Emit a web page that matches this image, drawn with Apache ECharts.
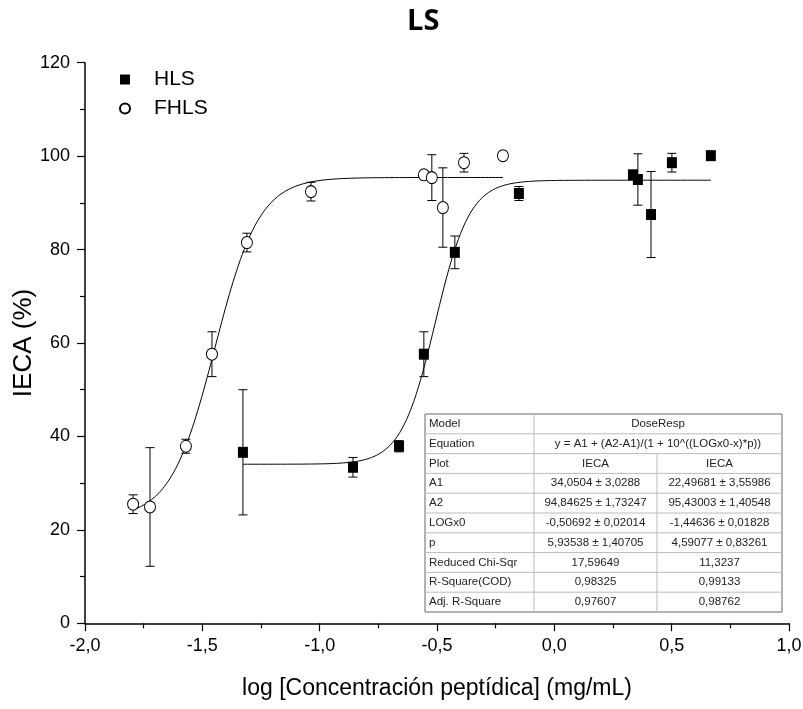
<!DOCTYPE html>
<html>
<head>
<meta charset="utf-8">
<script src="https://cdn.jsdelivr.net/npm/echarts@6/dist/echarts.min.js"></script>
<style>html,body{margin:0;padding:0;background:#fff}#c{width:803px;height:709px}</style>
</head>
<body>
<div id="c"></div>
<script>
// HLS data: x (log conc), y (IECA %), error
const hlsX   = [-1.327, -0.858, -0.662, -0.556, -0.424, -0.151, 0.335, 0.356, 0.412, 0.501, 0.667];
const hlsY   = [36.6, 33.4, 37.9, 57.6, 79.4, 92.0, 96.0, 95.0, 87.5, 98.6, 100.1];
const hlsErr = [13.4, 2.1, 1.2, 4.8, 3.5, 1.5, 0, 5.5, 9.2, 2.0, 0];
// FHLS data
const fhlsX   = [-1.795, -1.723, -1.570, -1.459, -1.310, -1.037, -0.556, -0.522, -0.475, -0.385, -0.219];
const fhlsY   = [25.5, 24.9, 37.9, 57.6, 81.5, 92.4, 96.0, 95.4, 89.0, 98.6, 100.1];
const fhlsErr = [2.0, 12.7, 1.5, 4.8, 2.0, 2.0, 0, 4.9, 8.5, 2.0, 0];
// DoseResp fit parameters from table: A1, A2, LOGx0, p
const hlsFit  = [34.0504, 94.84625, -0.50692, 5.93538];
const fhlsFit = [22.49681, 95.43003, -1.44636, 4.59077];
// Table
const tableRows = ["Model","Equation","Plot","A1","A2","LOGx0","p","Reduced Chi-Sqr","R-Square(COD)","Adj. R-Square"];
const tableCol1 = ["DoseResp","y = A1 + (A2-A1)/(1 + 10^((LOGx0-x)*p))","IECA","34,0504 ± 3,0288","94,84625 ± 1,73247","-0,50692 ± 0,02014","5,93538 ± 1,40705","17,59649","0,98325","0,97607"];
const tableCol2 = [null,null,"IECA","22,49681 ± 3,55986","95,43003 ± 1,40548","-1,44636 ± 0,01828","4,59077 ± 0,83261","11,3237","0,99133","0,98762"];

function doseResp(par, x){ return par[0] + (par[1]-par[0])/(1+Math.pow(10,(par[2]-x)*par[3])); }
function curve(par, x0, x1){
  const pts=[]; const n=200;
  for(let i=0;i<=n;i++){ const x=x0+(x1-x0)*i/n; pts.push([x, doseResp(par,x)]); }
  return pts;
}
function errData(xs, ys, es){ return xs.map((x,i)=>[x, ys[i]-es[i], ys[i]+es[i]]).filter(d=>d[2]>d[1]); }

const errRender = function(params, api){
  const x = api.value(0), lo = api.value(1), hi = api.value(2);
  const pLo = api.coord([x, lo]), pHi = api.coord([x, hi]);
  const w = 4.5;
  const st = {stroke:'#000', lineWidth:1};
  return {type:'group', children:[
    {type:'line', shape:{x1:pLo[0],y1:pLo[1],x2:pHi[0],y2:pHi[1]}, style:st},
    {type:'line', shape:{x1:pLo[0]-w,y1:pLo[1],x2:pLo[0]+w,y2:pLo[1]}, style:st},
    {type:'line', shape:{x1:pHi[0]-w,y1:pHi[1],x2:pHi[0]+w,y2:pHi[1]}, style:st}
  ]};
};

// table graphics
const tL=425, tT=414, rowH=19.8, cols=[425,534,657,782];
const tFont = '11.5px "Liberation Sans", Arial, sans-serif';
const g = [];
g.push({type:'rect', shape:{x:tL, y:tT, width:cols[3]-tL, height:rowH*10}, style:{fill:'#fff', stroke:'#666', lineWidth:1}, z:10});
for(let r=1;r<10;r++){
  g.push({type:'line', shape:{x1:tL,y1:tT+r*rowH,x2:cols[3],y2:tT+r*rowH}, style:{stroke:'#bbb',lineWidth:1}, z:11});
}
g.push({type:'line', shape:{x1:cols[1],y1:tT,x2:cols[1],y2:tT+10*rowH}, style:{stroke:'#bbb',lineWidth:1}, z:11});
g.push({type:'line', shape:{x1:cols[2],y1:tT+2*rowH,x2:cols[2],y2:tT+10*rowH}, style:{stroke:'#bbb',lineWidth:1}, z:11});
for(let r=0;r<10;r++){
  const cy = tT + r*rowH + rowH/2;
  g.push({type:'text', x:tL+4, y:cy, style:{text:tableRows[r], font:tFont, fill:'#222', textVerticalAlign:'middle'}, z:12});
  if(tableCol2[r]===null){
    g.push({type:'text', x:(cols[1]+cols[3])/2, y:cy, style:{text:tableCol1[r], font:tFont, fill:'#222', textAlign:'center', textVerticalAlign:'middle'}, z:12});
  } else {
    g.push({type:'text', x:(cols[1]+cols[2])/2, y:cy, style:{text:tableCol1[r], font:tFont, fill:'#222', textAlign:'center', textVerticalAlign:'middle'}, z:12});
    g.push({type:'text', x:(cols[2]+cols[3])/2, y:cy, style:{text:tableCol2[r], font:tFont, fill:'#222', textAlign:'center', textVerticalAlign:'middle'}, z:12});
  }
}

const fmt = v => v.toFixed(1).replace('.', ',');
const chart = echarts.init(document.getElementById('c'), null, {renderer:'canvas'});
chart.setOption({
  animation:false,
  backgroundColor:'#fff',
  title:{text:'LS', left:407, top:7, padding:0, textStyle:{fontFamily:'"Open Sans", sans-serif', fontWeight:'bold', fontSize:29, color:'#000'}},
  legend:{
    data:['HLS','FHLS'], orient:'vertical', left:119, top:69, padding:0, itemWidth:10, itemHeight:10, itemGap:8,
    textStyle:{fontFamily:'"Liberation Sans", Arial, sans-serif', fontSize:21, color:'#000', padding:[0,0,0,19]}
  },
  grid:{left:85, right:14, top:62.7, bottom:85.7, containLabel:false, outerBoundsMode:'none'},
  xAxis:{
    type:'value', min:-2, max:1, interval:0.5,
    name:'log [Concentración peptídica] (mg/mL)', nameLocation:'middle', nameGap:54,
    nameTextStyle:{fontFamily:'"Liberation Sans", Arial, sans-serif', fontSize:23, color:'#000'},
    axisLine:{onZero:false, lineStyle:{color:'#000', width:1.5}},
    axisTick:{show:true, length:8, lineStyle:{color:'#000', width:1.2}},
    minorTick:{show:true, splitNumber:2, length:5, lineStyle:{color:'#000', width:1.2}},
    axisLabel:{formatter:fmt, margin:14, fontFamily:'"Liberation Sans", Arial, sans-serif', fontSize:18, color:'#000'},
    splitLine:{show:false}
  },
  yAxis:{
    type:'value', min:0, max:120, interval:20,
    name:'IECA (%)', nameLocation:'middle', nameGap:48, nameMoveOverlap:false,
    nameTextStyle:{fontFamily:'"Liberation Sans", Arial, sans-serif', fontSize:26, color:'#000'},
    axisLine:{show:true, onZero:false, lineStyle:{color:'#000', width:1.5}},
    axisTick:{show:true, length:8, lineStyle:{color:'#000', width:1.2}},
    minorTick:{show:true, splitNumber:2, length:5, lineStyle:{color:'#000', width:1.2}},
    axisLabel:{margin:15, fontFamily:'"Liberation Sans", Arial, sans-serif', fontSize:18, color:'#000'},
    splitLine:{show:false}
  },
  graphic:g,
  series:[
    {name:'HLS fit', type:'line', data:curve(hlsFit, hlsX[0], hlsX[hlsX.length-1]), showSymbol:false, symbol:'none', lineStyle:{color:'#000', width:1}, z:2, silent:true},
    {name:'FHLS fit', type:'line', data:curve(fhlsFit, fhlsX[0], fhlsX[fhlsX.length-1]), showSymbol:false, symbol:'none', lineStyle:{color:'#000', width:1}, z:2, silent:true},
    {name:'HLS err', type:'custom', renderItem:errRender, data:errData(hlsX,hlsY,hlsErr), z:3, silent:true},
    {name:'FHLS err', type:'custom', renderItem:errRender, data:errData(fhlsX,fhlsY,fhlsErr), z:3, silent:true},
    {name:'HLS', type:'scatter', data:hlsX.map((x,i)=>[x,hlsY[i]]), symbol:'rect', symbolSize:[10,11], itemStyle:{color:'#000', opacity:1}, z:5},
    {name:'FHLS', type:'scatter', data:fhlsX.map((x,i)=>[x,fhlsY[i]]), symbol:'circle', symbolSize:[11,12], itemStyle:{color:'#fff', borderColor:'#000', borderWidth:1, opacity:1}, z:5}
  ]
});
</script>
</body>
</html>
